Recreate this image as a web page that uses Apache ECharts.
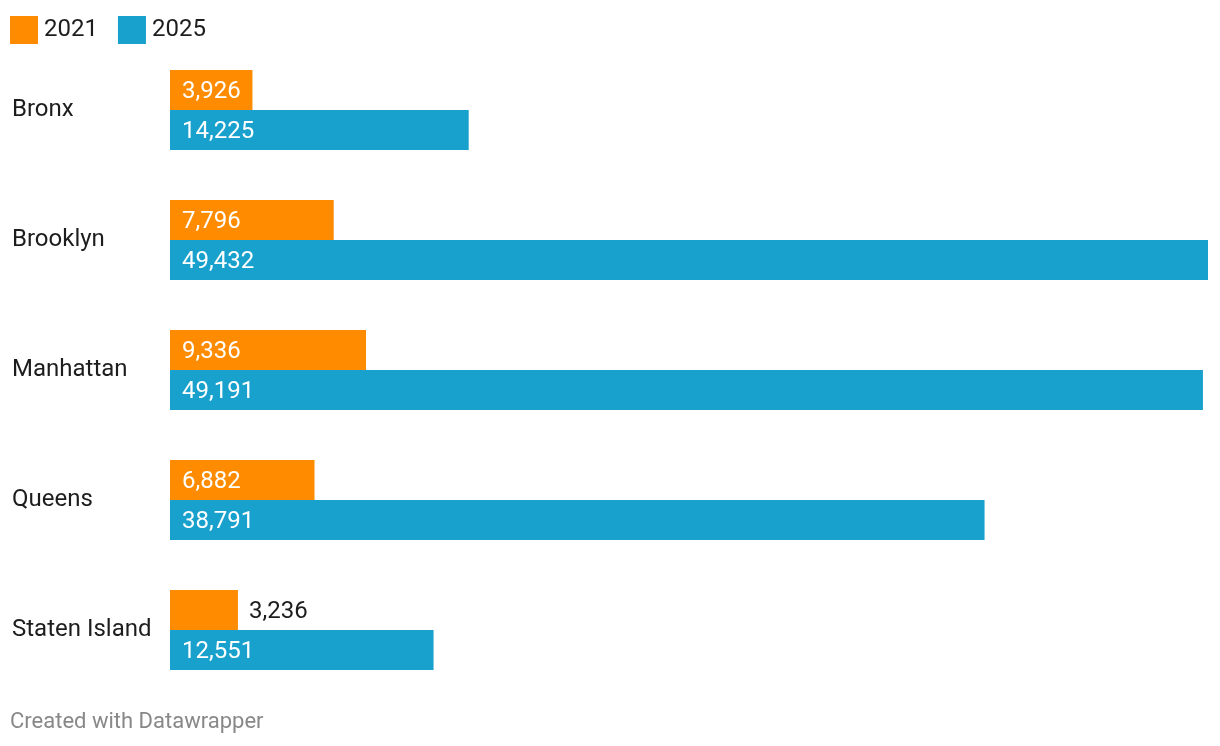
<!DOCTYPE html>
<html>
<head>
<meta charset="utf-8">
<script src="https://cdn.jsdelivr.net/npm/echarts@6/dist/echarts.min.js"></script>
<style>
html,body{margin:0;padding:0;background:#fff;}
#chart{width:1220px;height:746px;}
</style>
</head>
<body>
<div id="chart"></div>
<script>
const categories = ['Bronx', 'Brooklyn', 'Manhattan', 'Queens', 'Staten Island'];
const seriesNames = ['2021', '2025'];
const values2021 = [3926, 7796, 9336, 6882, 3236];
const values2025 = [14225, 49432, 49191, 38791, 12551];

const FONT = 'Roboto, "Noto Sans", sans-serif';
const chart = echarts.init(document.getElementById('chart'));

function fmt(v) { return v.toLocaleString('en-US'); }

// labels that don't fit inside a short bar go outside
function buildData(vals) {
  return vals.map(v => {
    if (v < 3500) {
      return { value: v, label: { position: 'right', distance: 11, color: '#1d1d1d' } };
    }
    return v;
  });
}

chart.setOption({
  animation: false,
  textStyle: { fontFamily: FONT },
  legend: {
    left: 10, top: 16, padding: 0,
    itemWidth: 28, itemHeight: 28, itemGap: 20,
    icon: 'rect',
    textStyle: { fontSize: 24, color: '#1d1d1d', fontFamily: FONT, padding: [0, 0, 0, 1] },
    data: seriesNames
  },
  grid: { left: 170, right: 12, top: 45, bottom: 51, containLabel: false },
  xAxis: {
    type: 'value', min: 0, max: 49432,
    show: false
  },
  yAxis: {
    type: 'category', data: categories, inverse: true,
    axisLine: { show: false }, axisTick: { show: false },
    axisLabel: { align: 'left', margin: 158, fontSize: 24, color: '#1d1d1d', fontFamily: FONT }
  },
  series: [
    {
      name: seriesNames[0], type: 'bar', data: buildData(values2021),
      barWidth: 40, barGap: '0%', barCategoryGap: '38.46%',
      itemStyle: { color: '#ff8c00' },
      label: { show: true, position: 'insideLeft', distance: 12, offset: [0, 2], color: '#fff', fontSize: 24, fontFamily: FONT,
        formatter: p => fmt(p.value) }
    },
    {
      name: seriesNames[1], type: 'bar', data: buildData(values2025),
      barWidth: 40, barGap: '0%', barCategoryGap: '38.46%',
      itemStyle: { color: '#18a1cd' },
      label: { show: true, position: 'insideLeft', distance: 12, offset: [0, 2], color: '#fff', fontSize: 24, fontFamily: FONT,
        formatter: p => fmt(p.value) }
    }
  ],
  graphic: [{
    type: 'text', left: 10, top: 711,
    style: { text: 'Created with Datawrapper', fill: '#888', fontSize: 22, fontFamily: FONT }
  }]
});
</script>
</body>
</html>
